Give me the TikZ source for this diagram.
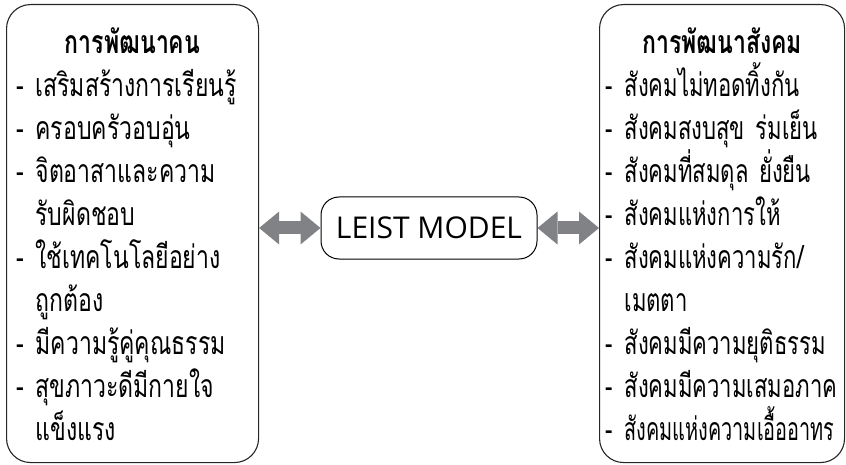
\documentclass[tikz,border=0pt]{standalone}
\usepackage{fontspec}
\usepackage{graphicx}
\usepackage{tikz}
\usetikzlibrary{arrows.meta}
\newfontfamily\thaifont[Script=Thai,FakeStretch=0.72]{Loma}
\newfontfamily\societyfont[Script=Thai,FakeStretch=0.69]{Loma}
\newfontfamily\modelfont{Open Sans}
\definecolor{arrowgray}{RGB}{128,130,133}
\newcommand{\point}[1]{\mbox{\makebox[19pt][l]{-}#1}\par}
\newcommand{\cont}[1]{\mbox{\hspace*{19pt}#1}\par}

\begin{document}
\begin{tikzpicture}[x=1pt,y=1pt]
    \tikzstyle{panel}=[
      draw=black!85,
      line width=1.1pt,
      rounded corners=24pt,
      anchor=north west,
      align=left,
      inner xsep=6pt,
      inner ysep=0pt,
      text height=49pt,
      text depth=409pt,
      font=\thaifont\fontsize{32}{43}\selectfont,
    ]
    \tikzstyle{hub}=[
      draw=black,
      line width=1pt,
      rounded corners=18pt,
      minimum width=216pt,
      minimum height=62pt,
      font=\modelfont\fontsize{30}{34}\selectfont,
    ]
    \tikzstyle{link}=[
      arrowgray,
      line width=13pt,
      {Triangle[length=20pt,width=33pt,line width=0pt]}-{Triangle[length=20pt,width=33pt,line width=0pt]},
    ]

    \useasboundingbox (0,0) rectangle (846,-465);

    {
      \node[panel, inner xsep=10pt, text width=232pt] (people) at (6,-4) {%
        {\centering\bfseries การพัฒนาคน\par}
        \point{เสริมสร้างการเรียนรู้}
        \point{ครอบครัวอบอุ่น}
        \point{จิตอาสาและความ}
        \cont{รับผิดชอบ}
        \point{ใช้เทคโนโลยีอย่าง}
        \cont{ถูกต้อง}
        \point{มีความรู้คู่คุณธรรม}
        \point{สุขภาวะดีมีกายใจ}
        \cont{แข็งแรง}};

      \node[panel, text width=233pt, font=\societyfont\fontsize{32}{43}\selectfont] (society) at (599,-4) {%
        {\centering\thaifont\bfseries การพัฒนาสังคม\par}
        \point{สังคมไม่ทอดทิ้งกัน}
        \point{สังคมสงบสุข ร่มเย็น}
        \point{สังคมที่สมดุล ยั่งยืน}
        \point{สังคมแห่งการให้}
        \point{สังคมแห่งความรัก/}
        \cont{เมตตา}
        \point{สังคมมีความยุติธรรม}
        \point{สังคมมีความเสมอภาค}
        \point{\resizebox{210pt}{\height}{สังคมแห่งความเอื้ออาทร}}};
    }

    {
      \node[hub] (hub) at (429,-228) {LEIST MODEL};
    }

    {
      \draw[link] (people.east |- hub.west) -- (hub.west);
      \draw[link] (hub.east) -- (society.west |- hub.east);
    }
\end{tikzpicture}
\end{document}
